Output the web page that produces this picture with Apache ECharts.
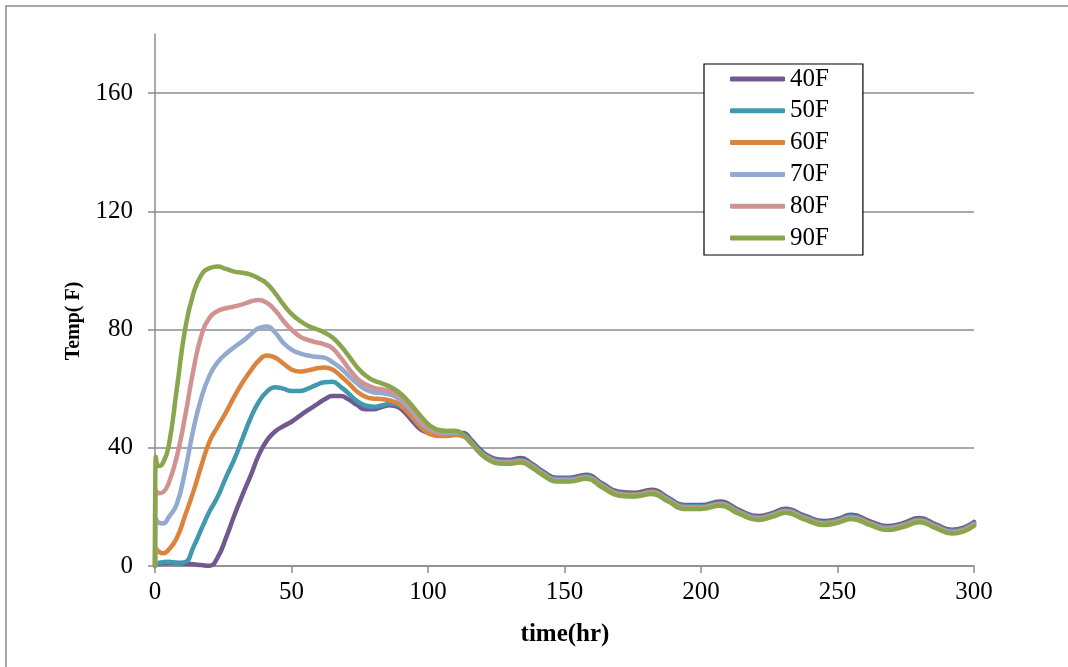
<!DOCTYPE html>
<html>
<head>
<meta charset="utf-8">
<script src="https://cdn.jsdelivr.net/npm/echarts@6/dist/echarts.min.js"></script>
<style>
html,body{margin:0;padding:0;background:#fff;}
#chart{width:1068px;height:667px;}
</style>
</head>
<body>
<div id="chart"></div>
<script>
// ---- data ----
const seriesNames = ['40F', '50F', '60F', '70F', '80F', '90F'];
const colors = ['#71588F', '#4198AF', '#DB843D', '#93A9CF', '#D19392', '#89A54E'];

const earlyT = [0, 0.3, 1.5, 3, 5, 8, 11, 14, 17, 20,
  23, 26, 29, 32, 35, 38, 41, 44, 47, 50,
  53, 56, 59, 62, 65, 68, 71, 74, 77, 80,
  83, 86, 89, 92, 95, 98, 101, 104, 107, 110,
  113, 116, 119, 122];
const tailT = [126, 130, 134, 138, 142, 147, 152, 158, 164, 170, 176, 182, 188, 194, 200, 207,
  214, 221, 226, 231, 238, 245, 250, 255, 262, 268, 274, 280, 286, 292, 296, 300];

const early40 = [0, 0.7, 0.8, 0.9, 1.0, 1.0, 0.8, 0.6, 0.3, 0.1,
  3, 9.5, 17, 24, 30.5, 37.5, 42.5, 45.5, 47.3, 48.8,
  50.8, 52.7, 54.5, 56.3, 57.5, 57.5, 56.3, 54.5, 53, 53,
  53.8, 54.4, 53.8, 51.5, 48.3, 45.8, 44.9, 44.6, 44.8, 45.2,
  45, 42.5, 39.5, 37.3];
const early50 = [0, 0.8, 1.1, 1.3, 1.4, 1.1, 1.3, 6.3, 12.5, 18.5,
  23.5, 30, 36, 43, 50, 55.5, 59, 60.5, 60, 59.2,
  59.2, 60, 61.2, 62.2, 62.3, 60.6, 58.3, 55.8, 54.3, 53.9,
  54.3, 54.9, 54.5, 52.8, 49.5, 46.5, 44.8, 44.4, 44.5, 44.8,
  44.5, 42, 39, 37];
const early60 = [0, 6, 4.8, 4.3, 5.5, 9.5, 17, 25, 34, 42.2,
  47.2, 52, 57.2, 62, 66, 69.5, 71.2, 70.5, 68.5, 66.5,
  65.8, 66.2, 66.8, 67.2, 66.5, 64.3, 61.8, 59, 57.3, 56.6,
  56.5, 56, 55, 52.5, 49.5, 46.5, 44.5, 44, 44, 44.3,
  43.8, 41.3, 38.5, 36.5];
const early70 = [0, 16, 14.6, 14.4, 16.5, 21, 32, 46, 57, 64.5,
  69, 71.8, 74, 76, 78.3, 80.5, 81, 79, 75.5, 73.2,
  72, 71.2, 70.8, 70.5, 69, 67, 64.3, 61.8, 59.8, 58.8,
  58.5, 58, 56.8, 54.3, 51.3, 48, 46, 45.2, 45, 45.2,
  44.3, 41.5, 38.5, 36.3];
const early80 = [0, 25.5, 24.6, 25, 28, 37, 50.5, 66, 78, 84,
  86.3, 87.2, 87.8, 88.5, 89.5, 90, 89, 86.5, 83, 80,
  77.7, 76.5, 75.7, 75, 73.7, 70.5, 66.8, 63.5, 61.5, 60.3,
  59.8, 59.2, 58, 55.5, 52.5, 49, 46.5, 45.5, 45.3, 45.5,
  44.3, 41.5, 38.4, 36.2];
const early90 = [0, 37, 33.8, 35, 40.5, 60, 80, 92, 98.5, 100.8,
  101.3, 100.5, 99.6, 99.2, 98.6, 97.3, 95.5, 92.3, 88.5, 85.3,
  83, 81.3, 80.2, 79, 77.3, 74.5, 71, 67.3, 64.5, 62.8,
  61.8, 60.7, 59, 56.5, 53.3, 50, 47.3, 46, 45.7, 45.8,
  44.3, 41.5, 38.3, 36];

const tail40 = [36.0, 35.9, 36.5, 34.6, 32.1, 29.9, 29.9, 30.9, 27.8, 25.1, 24.8, 25.8, 23.1, 20.6, 20.6, 21.8,
  18.9, 16.9, 17.9, 19.4, 17.0, 15.2, 15.9, 17.3, 15.1, 13.5, 14.5, 16.2, 14.1, 12.3, 12.9, 14.9];
const tail50 = [35.6, 35.5, 35.9, 34.2, 31.7, 29.5, 29.5, 30.4, 27.4, 24.7, 24.4, 25.3, 22.7, 20.2, 20.2, 21.3,
  18.5, 16.5, 17.5, 18.9, 16.6, 14.8, 15.5, 16.8, 14.7, 13.1, 14.1, 15.7, 13.7, 11.9, 12.5, 14.5];
const tail60 = [35.3, 35.2, 35.6, 33.9, 31.4, 29.2, 29.2, 30.1, 27.1, 24.4, 24.1, 25.0, 22.4, 19.9, 19.9, 21.0,
  18.2, 16.2, 17.2, 18.6, 16.3, 14.5, 15.2, 16.5, 14.4, 12.8, 13.8, 15.4, 13.4, 11.6, 12.2, 14.2];
const tail70 = [35.1, 35.0, 35.4, 33.7, 31.2, 29.0, 29.0, 29.9, 26.9, 24.2, 23.9, 24.8, 22.2, 19.7, 19.7, 20.8,
  18.0, 16.0, 17.0, 18.4, 16.1, 14.3, 15.0, 16.3, 14.2, 12.6, 13.6, 15.2, 13.2, 11.4, 12.0, 14.0];
const tail80 = [34.9, 34.8, 35.2, 33.5, 31.0, 28.8, 28.8, 29.7, 26.7, 24.0, 23.7, 24.6, 22.0, 19.5, 19.5, 20.6,
  17.8, 15.8, 16.8, 18.2, 15.9, 14.1, 14.8, 16.1, 14.0, 12.4, 13.4, 15.0, 13.0, 11.2, 11.8, 13.8];
const tail90 = [34.7, 34.6, 35.0, 33.3, 30.8, 28.6, 28.6, 29.5, 26.5, 23.8, 23.5, 24.4, 21.8, 19.3, 19.3, 20.4,
  17.6, 15.6, 16.6, 18.0, 15.7, 13.9, 14.6, 15.9, 13.8, 12.2, 13.2, 14.8, 12.8, 11.0, 11.6, 13.6];

const yTicks = [0, 40, 80, 120, 160];
const xTicks = [0, 50, 100, 150, 200, 250, 300];

const earlyVals = [early40, early50, early60, early70, early80, early90];
const tailVals = [tail40, tail50, tail60, tail70, tail80, tail90];

// ---- build ----
const T = earlyT.concat(tailT);
const series = seriesNames.map(function (name, i) {
  const vals = earlyVals[i].concat(tailVals[i]);
  return {
    name: name,
    type: 'line',
    data: T.map(function (t, k) { return [t, vals[k]]; }),
    smooth: 0.5,
    symbol: 'none',
    lineStyle: { width: 4.5, color: colors[i], cap: 'round', join: 'round' },
    itemStyle: { color: colors[i] },
    z: 2 + i
  };
});

const serif = '"Liberation Serif", "Times New Roman", serif';
const axisGray = '#8c8c8c';

const chart = echarts.init(document.getElementById('chart'), null, { renderer: 'canvas' });
chart.setOption({
  backgroundColor: '#ffffff',
  animation: false,
  color: colors,
  grid: { left: 155, right: 94, top: 34, bottom: 101, containLabel: false },
  xAxis: {
    type: 'value',
    min: 0, max: 300, interval: 50,
    axisLine: { show: true, onZero: false, lineStyle: { color: axisGray, width: 1.5 } },
    axisTick: { show: true, inside: false, length: 7, lineStyle: { color: axisGray, width: 1.5 }, customValues: xTicks },
    axisLabel: { color: '#000', fontFamily: serif, fontSize: 25, margin: 14, customValues: xTicks },
    splitLine: { show: false }
  },
  yAxis: {
    type: 'value',
    min: 0, max: 180,
    axisLine: { show: true, onZero: false, lineStyle: { color: axisGray, width: 1.5 } },
    axisTick: { show: true, inside: false, length: 7, lineStyle: { color: axisGray, width: 1.5 }, customValues: yTicks },
    axisLabel: { color: '#000', fontFamily: serif, fontSize: 25, margin: 22, customValues: yTicks },
    splitLine: { show: true, lineStyle: { color: axisGray, width: 1.5 } }
  },
  legend: {
    left: 704, top: 64,
    orient: 'vertical',
    data: seriesNames,
    icon: 'roundRect',
    itemWidth: 55, itemHeight: 5,
    itemGap: 6.8,
    padding: [2.5, 34, 4.5, 26],
    borderColor: '#000', borderWidth: 1.2,
    backgroundColor: '#fff',
    textStyle: { color: '#000', fontFamily: serif, fontSize: 25 }
  },
  graphic: [
    {
      type: 'rect', silent: true, z: -10,
      shape: { x: 6, y: 6, width: 1200, height: 800 },
      style: { fill: 'none', stroke: '#8c8c8c', lineWidth: 1.5 }
    },
    {
      type: 'text', x: 565, y: 635, silent: true,
      style: { text: 'time(hr)', fontFamily: serif, fontWeight: 'bold', fontSize: 25, fill: '#000', align: 'center', verticalAlign: 'middle' }
    },
    {
      type: 'text', x: 74, y: 321, rotation: Math.PI / 2, silent: true,
      style: { text: 'Temp( F)', fontFamily: serif, fontWeight: 'bold', fontSize: 20, fill: '#000', align: 'center', verticalAlign: 'middle' }
    }
  ],
  series: series
});
</script>
</body>
</html>
